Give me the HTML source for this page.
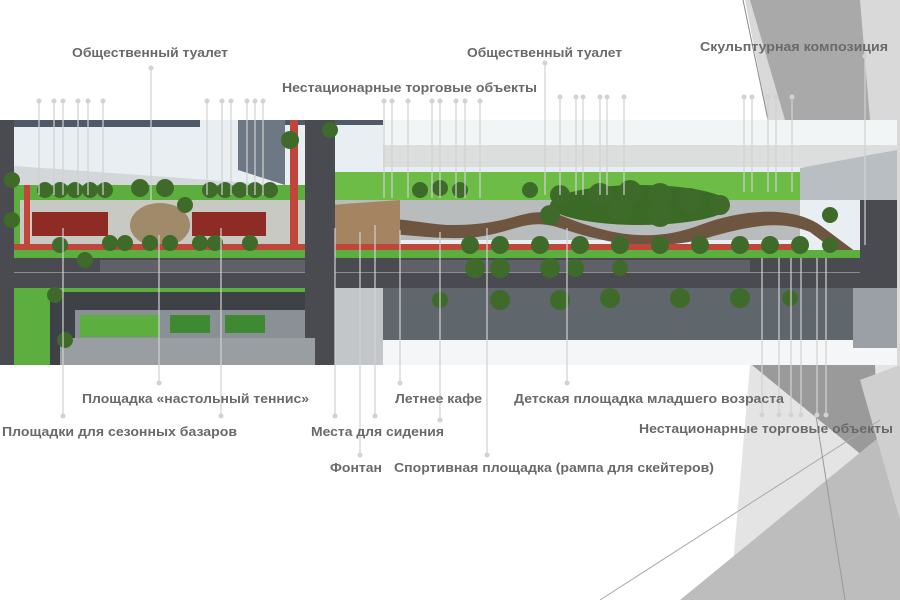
<!DOCTYPE html>
<html><head><meta charset="utf-8"><style>
html,body{margin:0;padding:0;background:#fff;}
svg{display:block;}
text{font-family:"Liberation Sans",sans-serif;font-weight:bold;font-size:13px;fill:#6a6a6a;}
</style></head><body>
<svg width="900" height="600" viewBox="0 0 900 600" xmlns="http://www.w3.org/2000/svg">
<polygon points="745,0 900,0 900,600 860,600" fill="#d9d9d9"/>
<polygon points="750,0 860,0 870,120 785,120" fill="#a9a9a9"/>
<line x1="743" y1="0" x2="768" y2="120" stroke="#8a8a8a" stroke-width="1"/>
<polygon points="750,365 900,365 900,600 730,600" fill="#e4e4e4"/>
<polygon points="752,365 875,365 880,470" fill="#9a9a9a"/>
<polygon points="680,600 900,420 900,600" fill="#bdbdbd"/>
<polygon points="860,380 900,365 900,520" fill="#cfcfcf"/>
<line x1="600" y1="600" x2="880" y2="420" stroke="#aaa" stroke-width="1"/>
<line x1="808" y1="365" x2="845" y2="600" stroke="#999" stroke-width="1"/>

<rect x="0" y="120" width="897" height="245" fill="#e8eef1"/>
<rect x="0" y="120" width="200" height="7" fill="#4f5a66"/>
<rect x="240" y="120" width="200" height="5" fill="#4f5a66"/>
<polygon points="238,120 285,120 285,185 238,170" fill="#6d7884"/>
<polygon points="0,165 280,185 280,200 0,190" fill="#d4d7d9"/>
<rect x="383" y="120" width="514" height="25" fill="#f2f5f6"/>
<rect x="383" y="145" width="514" height="22" fill="#dcdede"/>
<polygon points="800,168 897,150 897,200 800,200" fill="#b9bec2"/>
<rect x="0" y="185" width="310" height="80" fill="#5cae3f"/>
<rect x="330" y="172" width="470" height="28" fill="#6cbc45"/>
<rect x="330" y="200" width="470" height="40" fill="#b8bcbd"/>
<rect x="20" y="200" width="290" height="50" fill="#c9c9c4"/>
<rect x="32" y="212" width="76" height="24" fill="#8e2b25"/>
<rect x="192" y="212" width="74" height="24" fill="#8e2b25"/>
<ellipse cx="160" cy="225" rx="30" ry="22" fill="#a08a6a"/>
<ellipse cx="640" cy="205" rx="90" ry="20" fill="#3a6a26"/>
<path d="M330,235 C360,205 420,225 450,225 C520,225 520,205 560,215 C620,240 660,240 700,225 C740,210 790,205 820,225 L860,255 L850,262 L810,232 C780,220 750,225 700,240 C650,250 610,245 560,228 C520,215 510,240 450,238 C410,238 360,225 340,245 Z" fill="#6e5540"/>
<polygon points="330,205 400,200 400,245 330,245" fill="#a58462"/>
<rect x="0" y="244" width="310" height="6" fill="#c0453a"/>
<rect x="330" y="244" width="470" height="6" fill="#c0453a"/>
<rect x="24" y="185" width="6" height="60" fill="#c0453a"/>
<rect x="290" y="120" width="8" height="130" fill="#c0453a"/>
<rect x="0" y="250" width="897" height="10" fill="#5cae3f"/>
<rect x="0" y="258" width="897" height="30" fill="#4a4b50"/>
<rect x="0" y="272" width="897" height="1" fill="#8a8a8a"/>
<rect x="100" y="260" width="210" height="12" fill="#606168"/>
<rect x="400" y="260" width="350" height="12" fill="#606168"/>
<rect x="305" y="120" width="30" height="245" fill="#4a4b50"/>
<rect x="0" y="120" width="14" height="245" fill="#4a4b50"/>
<rect x="860" y="200" width="37" height="165" fill="#4a4b50"/>
<rect x="14" y="288" width="291" height="77" fill="#5cae3f"/>
<rect x="50" y="292" width="255" height="73" fill="#3e4248"/>
<rect x="75" y="310" width="230" height="55" fill="#8a9096"/>
<rect x="80" y="315" width="80" height="22" fill="#5cae3f"/>
<rect x="170" y="315" width="40" height="18" fill="#3d8a32"/>
<rect x="225" y="315" width="40" height="18" fill="#3d8a32"/>
<rect x="60" y="338" width="255" height="27" fill="#999ea3"/>
<rect x="335" y="288" width="48" height="77" fill="#c2c6c8"/>
<rect x="383" y="288" width="470" height="52" fill="#5f666c"/>
<rect x="383" y="340" width="514" height="25" fill="#f4f6f7"/>
<rect x="853" y="288" width="44" height="60" fill="#9aa0a5"/>
<g fill="#3f6b2a">
<circle cx="45" cy="190" r="8"/><circle cx="60" cy="190" r="8"/><circle cx="75" cy="190" r="8"/><circle cx="90" cy="190" r="8"/><circle cx="105" cy="190" r="8"/>
<circle cx="140" cy="188" r="9"/><circle cx="165" cy="188" r="9"/><circle cx="185" cy="205" r="8"/>
<circle cx="210" cy="190" r="8"/><circle cx="225" cy="190" r="8"/><circle cx="240" cy="190" r="8"/><circle cx="255" cy="190" r="8"/><circle cx="270" cy="190" r="8"/>
<circle cx="12" cy="180" r="8"/><circle cx="12" cy="220" r="8"/><circle cx="290" cy="140" r="9"/><circle cx="330" cy="130" r="8"/>
<circle cx="60" cy="245" r="8"/><circle cx="110" cy="243" r="8"/><circle cx="125" cy="243" r="8"/><circle cx="150" cy="243" r="8"/><circle cx="170" cy="243" r="8"/>
<circle cx="200" cy="243" r="8"/><circle cx="215" cy="243" r="8"/><circle cx="250" cy="243" r="8"/><circle cx="85" cy="260" r="8"/>
<circle cx="420" cy="190" r="8"/><circle cx="440" cy="188" r="8"/><circle cx="460" cy="190" r="8"/><circle cx="530" cy="190" r="8"/><circle cx="560" cy="195" r="10"/>
<circle cx="600" cy="195" r="12"/><circle cx="630" cy="192" r="12"/><circle cx="660" cy="195" r="12"/><circle cx="690" cy="200" r="12"/><circle cx="720" cy="205" r="10"/>
<circle cx="620" cy="210" r="12"/><circle cx="660" cy="215" r="12"/><circle cx="550" cy="215" r="10"/><circle cx="830" cy="215" r="8"/>
<circle cx="470" cy="245" r="9"/><circle cx="500" cy="245" r="9"/><circle cx="540" cy="245" r="9"/><circle cx="580" cy="245" r="9"/><circle cx="620" cy="245" r="9"/>
<circle cx="660" cy="245" r="9"/><circle cx="700" cy="245" r="9"/><circle cx="740" cy="245" r="9"/><circle cx="770" cy="245" r="9"/><circle cx="800" cy="245" r="9"/><circle cx="830" cy="245" r="8"/>
<circle cx="475" cy="268" r="10"/><circle cx="500" cy="268" r="10"/><circle cx="550" cy="268" r="10"/><circle cx="575" cy="268" r="9"/><circle cx="620" cy="268" r="8"/>
<circle cx="500" cy="300" r="10"/><circle cx="560" cy="300" r="10"/><circle cx="610" cy="298" r="10"/><circle cx="680" cy="298" r="10"/><circle cx="740" cy="298" r="10"/><circle cx="790" cy="298" r="8"/>
<circle cx="440" cy="300" r="8"/><circle cx="55" cy="295" r="8"/><circle cx="65" cy="340" r="8"/>
</g>
<g stroke="#d2d2d2" stroke-width="1.2" fill="#cfcfcf">
<line x1="39" y1="101" x2="39" y2="195"/><line x1="54" y1="101" x2="54" y2="195"/><line x1="63" y1="101" x2="63" y2="195"/><line x1="78" y1="101" x2="78" y2="195"/><line x1="88" y1="101" x2="88" y2="195"/><line x1="103" y1="101" x2="103" y2="195"/>
<line x1="151" y1="68" x2="151" y2="200"/>
<line x1="207" y1="101" x2="207" y2="195"/><line x1="222" y1="101" x2="222" y2="195"/><line x1="231" y1="101" x2="231" y2="195"/><line x1="247" y1="101" x2="247" y2="195"/><line x1="255" y1="101" x2="255" y2="195"/><line x1="263" y1="101" x2="263" y2="195"/>
<line x1="384" y1="101" x2="384" y2="198"/><line x1="392" y1="101" x2="392" y2="198"/><line x1="408" y1="101" x2="408" y2="198"/><line x1="432" y1="101" x2="432" y2="198"/><line x1="440" y1="101" x2="440" y2="198"/><line x1="456" y1="101" x2="456" y2="198"/><line x1="465" y1="101" x2="465" y2="198"/><line x1="480" y1="101" x2="480" y2="198"/>
<line x1="545" y1="63" x2="545" y2="195"/>
<line x1="560" y1="97" x2="560" y2="195"/><line x1="576" y1="97" x2="576" y2="195"/><line x1="583" y1="97" x2="583" y2="195"/><line x1="600" y1="97" x2="600" y2="195"/><line x1="607" y1="97" x2="607" y2="195"/><line x1="624" y1="97" x2="624" y2="195"/>
<line x1="744" y1="97" x2="744" y2="192"/><line x1="752" y1="97" x2="752" y2="192"/><line x1="768" y1="97" x2="768" y2="192"/><line x1="776" y1="97" x2="776" y2="192"/><line x1="792" y1="97" x2="792" y2="192"/>
<line x1="865" y1="56" x2="865" y2="245"/>
<line x1="63" y1="228" x2="63" y2="416"/><line x1="159" y1="235" x2="159" y2="383"/><line x1="221" y1="228" x2="221" y2="416"/>
<line x1="335" y1="228" x2="335" y2="416"/><line x1="360" y1="232" x2="360" y2="455"/><line x1="375" y1="225" x2="375" y2="416"/><line x1="400" y1="230" x2="400" y2="383"/>
<line x1="440" y1="232" x2="440" y2="420"/><line x1="487" y1="228" x2="487" y2="455"/><line x1="567" y1="228" x2="567" y2="383"/>
<line x1="762" y1="258" x2="762" y2="415"/><line x1="779" y1="258" x2="779" y2="415"/><line x1="791" y1="258" x2="791" y2="415"/><line x1="801" y1="258" x2="801" y2="415"/><line x1="817" y1="258" x2="817" y2="415"/><line x1="826" y1="258" x2="826" y2="415"/>
</g>
<g fill="#d2d2d2">
<circle cx="39" cy="101" r="2.5"/><circle cx="54" cy="101" r="2.5"/><circle cx="63" cy="101" r="2.5"/><circle cx="78" cy="101" r="2.5"/><circle cx="88" cy="101" r="2.5"/><circle cx="103" cy="101" r="2.5"/>
<circle cx="151" cy="68" r="2.5"/>
<circle cx="207" cy="101" r="2.5"/><circle cx="222" cy="101" r="2.5"/><circle cx="231" cy="101" r="2.5"/><circle cx="247" cy="101" r="2.5"/><circle cx="255" cy="101" r="2.5"/><circle cx="263" cy="101" r="2.5"/>
<circle cx="384" cy="101" r="2.5"/><circle cx="392" cy="101" r="2.5"/><circle cx="408" cy="101" r="2.5"/><circle cx="432" cy="101" r="2.5"/><circle cx="440" cy="101" r="2.5"/><circle cx="456" cy="101" r="2.5"/><circle cx="465" cy="101" r="2.5"/><circle cx="480" cy="101" r="2.5"/>
<circle cx="545" cy="63" r="2.5"/>
<circle cx="560" cy="97" r="2.5"/><circle cx="576" cy="97" r="2.5"/><circle cx="583" cy="97" r="2.5"/><circle cx="600" cy="97" r="2.5"/><circle cx="607" cy="97" r="2.5"/><circle cx="624" cy="97" r="2.5"/>
<circle cx="744" cy="97" r="2.5"/><circle cx="752" cy="97" r="2.5"/><circle cx="768" cy="97" r="2.5"/><circle cx="776" cy="97" r="2.5"/><circle cx="792" cy="97" r="2.5"/>
<circle cx="865" cy="56" r="2.5"/>
<circle cx="63" cy="416" r="2.5"/><circle cx="159" cy="383" r="2.5"/><circle cx="221" cy="416" r="2.5"/><circle cx="335" cy="416" r="2.5"/><circle cx="360" cy="455" r="2.5"/><circle cx="375" cy="416" r="2.5"/><circle cx="400" cy="383" r="2.5"/><circle cx="440" cy="420" r="2.5"/><circle cx="487" cy="455" r="2.5"/><circle cx="567" cy="383" r="2.5"/>
<circle cx="762" cy="415" r="2.5"/><circle cx="779" cy="415" r="2.5"/><circle cx="791" cy="415" r="2.5"/><circle cx="801" cy="415" r="2.5"/><circle cx="817" cy="415" r="2.5"/><circle cx="826" cy="415" r="2.5"/>
</g>
<text x="72" y="57" textLength="156" lengthAdjust="spacingAndGlyphs">Общественный туалет</text>
<text x="467" y="57" textLength="155" lengthAdjust="spacingAndGlyphs">Общественный туалет</text>
<text x="700" y="51" textLength="188" lengthAdjust="spacingAndGlyphs">Скульптурная композиция</text>
<text x="282" y="92" textLength="255" lengthAdjust="spacingAndGlyphs">Нестационарные торговые объекты</text>
<text x="82" y="403" textLength="227" lengthAdjust="spacingAndGlyphs">Площадка «настольный теннис»</text>
<text x="395" y="403" textLength="87" lengthAdjust="spacingAndGlyphs">Летнее кафе</text>
<text x="514" y="403" textLength="270" lengthAdjust="spacingAndGlyphs">Детская площадка младшего возраста</text>
<text x="2" y="436" textLength="235" lengthAdjust="spacingAndGlyphs">Площадки для сезонных базаров</text>
<text x="311" y="436" textLength="133" lengthAdjust="spacingAndGlyphs">Места для сидения</text>
<text x="639" y="433" textLength="254" lengthAdjust="spacingAndGlyphs">Нестационарные торговые объекты</text>
<text x="330" y="472" textLength="52" lengthAdjust="spacingAndGlyphs">Фонтан</text>
<text x="394" y="472" textLength="320" lengthAdjust="spacingAndGlyphs">Спортивная площадка (рампа для скейтеров)</text>
</svg>
</body></html>
